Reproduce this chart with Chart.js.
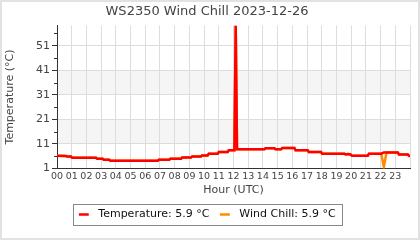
<!DOCTYPE html>
<html lang="en">
<head>
<meta charset="UTF-8">
<title>WS2350 Wind Chill 2023-12-26</title>
<script src="https://cdn.jsdelivr.net/npm/chart.js"></script>
<style>
    body { margin: 0; background: #fff; }
</style>
</head>
<body>
<canvas id="chart" width="420" height="240"></canvas>
<script>
    // hours of the day (UTC) where readings were taken
    const hours = [
        0.00, 0.60, 0.68, 0.95, 1.03, 2.65, 2.73, 3.10, 3.18, 3.55, 3.63,
        6.85, 6.93, 7.63, 7.71, 8.43, 8.51, 9.11, 9.19, 9.79, 9.87,
        10.24, 10.32, 10.92, 11.00, 11.60, 11.68, 12.06, 12.15, 12.24,
        14.10, 14.18, 14.78, 14.86, 15.23, 15.31, 16.14, 16.22, 17.04, 17.12,
        17.95, 18.03, 19.55, 19.62, 19.80, 19.95, 20.05, 21.13, 21.21,
        22.05, 22.22, 22.40, 23.17, 23.25, 23.85, 23.92, 24.00
    ];
    const temperature = [
        6.2, 6.1, 5.8, 5.8, 5.3, 5.3, 4.9, 4.9, 4.5, 4.5, 4.1,
        4.1, 4.5, 4.5, 4.9, 4.9, 5.4, 5.4, 5.9, 5.9, 6.3,
        6.3, 7.0, 7.0, 7.7, 7.7, 8.4, 8.4, 59.2, 8.8,
        8.8, 9.2, 9.2, 8.8, 8.8, 9.3, 9.3, 8.4, 8.4, 7.7,
        7.7, 7.0, 7.0, 6.7, 6.9, 6.7, 6.2, 6.2, 7.0,
        7.0, 7.5, 7.5, 7.5, 6.7, 6.7, 6.2, 5.9
    ];
    const windChill = [
        6.2, 6.1, 5.8, 5.8, 5.3, 5.3, 4.9, 4.9, 4.5, 4.5, 4.1,
        4.1, 4.5, 4.5, 4.9, 4.9, 5.4, 5.4, 5.9, 5.9, 6.3,
        6.3, 7.0, 7.0, 7.7, 7.7, 8.4, 8.4, 59.2, 8.8,
        8.8, 9.2, 9.2, 8.8, 8.8, 9.3, 9.3, 8.4, 8.4, 7.7,
        7.7, 7.0, 7.0, 6.7, 6.9, 6.7, 6.2, 6.2, 7.0,
        7.0, 1.5, 7.5, 7.5, 6.7, 6.7, 6.2, 5.9
    ];
    const yMajorTicks = [1, 11, 21, 31, 41, 51];
    const yMinorTicks = [6, 16, 26, 36, 46, 56];
    const yShadedBands = [[11, 21], [31, 41]];
    const currentTemp = '5.9 °C';
    const currentChill = '5.9 °C';

    Chart.defaults.font.family = '"DejaVu Sans", sans-serif';
    Chart.defaults.color = '#444';

    // grey bands behind the grid, plus the small ticks between the labelled ones
    const extras = {
        id: 'extras',
        beforeDraw(chart) {
            const { ctx, chartArea, scales } = chart;
            ctx.save();
            ctx.fillStyle = '#f5f5f5';
            yShadedBands.forEach(b => {
                const y1 = scales.y.getPixelForValue(b[1]);
                const y0 = scales.y.getPixelForValue(b[0]);
                ctx.fillRect(chartArea.left, y1, chartArea.right - chartArea.left, y0 - y1);
            });
            ctx.restore();
        },
        afterDraw(chart) {
            const { ctx, chartArea, scales, legend } = chart;
            ctx.save();
            ctx.strokeStyle = '#333';
            ctx.lineWidth = 1;
            yMinorTicks.forEach(v => {
                const y = Math.round(scales.y.getPixelForValue(v)) + 0.5;
                ctx.beginPath();
                ctx.moveTo(chartArea.left - 3, y);
                ctx.lineTo(chartArea.left, y);
                ctx.stroke();
            });
            // box round the legend
            const boxes = legend.legendHitBoxes;
            if (boxes.length) {
                const l = Math.min(...boxes.map(b => b.left)) - 5;
                const r = Math.max(...boxes.map(b => b.left + b.width)) + 7;
                const t = boxes[0].top - 5;
                const h = boxes[0].height + 10;
                ctx.strokeStyle = '#888';
                ctx.strokeRect(Math.round(l) + 0.5, Math.round(t) + 0.5, Math.round(r - l), Math.round(h));
            }
            // outer frame
            ctx.strokeStyle = '#e2e2e2';
            ctx.lineWidth = 2;
            ctx.strokeRect(1, 1, chart.width - 2, chart.height - 2);
            ctx.restore();
        }
    };

    new Chart(document.getElementById('chart'), {
        type: 'line',
        data: {
            datasets: [{
                label: ' Temperature: ' + currentTemp,
                data: hours.map((h, i) => ({ x: h, y: temperature[i] })),
                borderColor: '#ff0000',
                backgroundColor: '#ff0000',
                borderWidth: 2.5,
                pointRadius: 0,
                tension: 0
            }, {
                label: ' Wind Chill: ' + currentChill,
                data: hours.map((h, i) => ({ x: h, y: windChill[i] })),
                borderColor: '#ff8c00',
                backgroundColor: '#ff8c00',
                borderWidth: 2.5,
                pointRadius: 0,
                tension: 0
            }]
        },
        options: {
            responsive: false,
            animation: false,
            layout: { padding: { left: 4, right: 10, top: 0, bottom: 10 } },
            plugins: {
                title: {
                    display: true,
                    text: 'WS2350 Wind Chill 2023-12-26',
                    color: '#444',
                    font: { size: 13, weight: 'normal' },
                    padding: { top: 4, bottom: 6 }
                },
                legend: {
                    position: 'bottom',
                    labels: {
                        color: '#111',
                        font: { size: 11 },
                        usePointStyle: true,
                        pointStyle: 'line',
                        boxWidth: 11,
                        boxHeight: 7,
                        padding: 10
                    }
                },
                tooltip: { enabled: false }
            },
            scales: {
                x: {
                    type: 'linear',
                    min: 0,
                    max: 24,
                    ticks: {
                        stepSize: 1,
                        color: '#444',
                        font: { size: 9.5 },
                        padding: 2,
                        maxRotation: 0,
                        autoSkip: false,
                        callback: v => v < 24 ? String(v).padStart(2, '0') : ''
                    },
                    grid: { color: '#dddddd', drawTicks: false },
                    border: { color: '#333', width: 1 },
                    title: { display: true, text: 'Hour (UTC)', color: '#444', font: { size: 11 }, padding: { top: 0, bottom: 2 } }
                },
                y: {
                    min: 1,
                    max: 59.2,
                    afterBuildTicks: scale => { scale.ticks = yMajorTicks.map(v => ({ value: v })); },
                    afterFit: scale => { scale.width = 53; },
                    ticks: { color: '#444', font: { size: 11 }, padding: 2 },
                    grid: { color: '#dddddd', tickLength: 5, tickColor: '#333' },
                    border: { color: '#333', width: 1 },
                    title: { display: true, text: 'Temperature (°C)', color: '#444', font: { size: 11 }, padding: 0 }
                }
            }
        },
        plugins: [extras]
    });
</script>
</body>
</html>
